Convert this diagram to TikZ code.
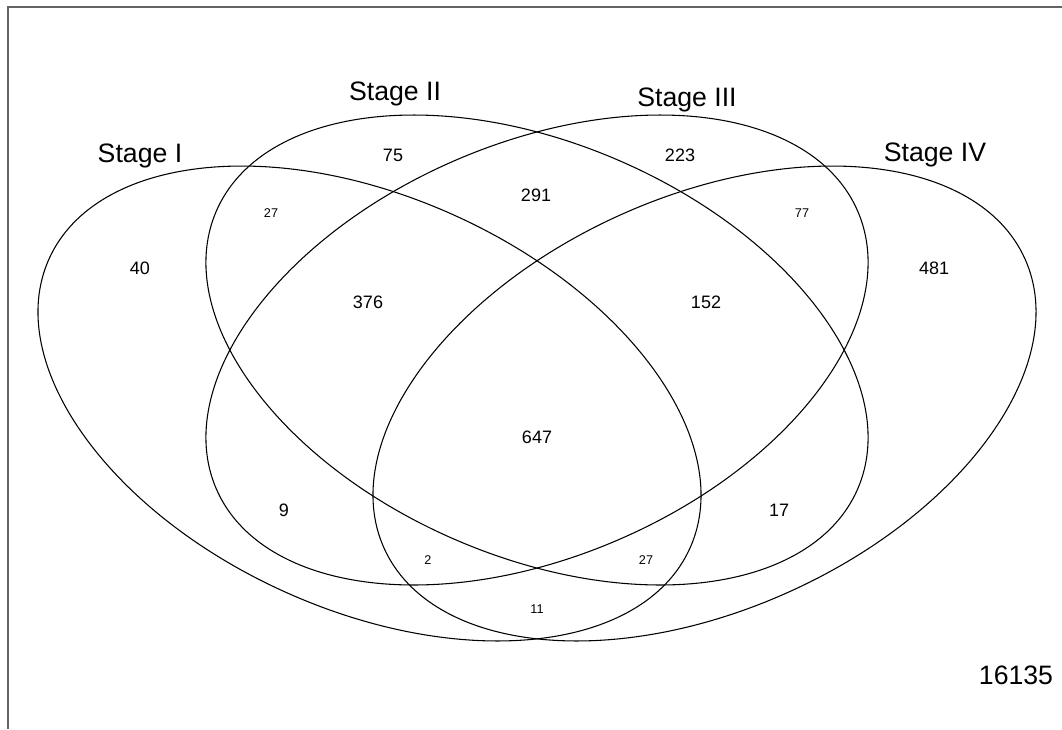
\documentclass[tikz,border=0pt]{standalone}
\usepackage{fontspec}
\setmainfont{Liberation Sans}

\tikzset{every picture/.style={line width=0.75pt}}
\tikzset{
  setname/.style={font=\fontsize{20}{24}\selectfont, inner sep=0.75pt},
  cnt/.style={font=\fontsize{13.5}{16}\selectfont, inner sep=0.75pt},
  cntsmall/.style={font=\fontsize{9.5}{11}\selectfont, inner sep=0.75pt},
  venn/.style={draw=black, line width=0.8pt}
}

\begin{document}
\begin{tikzpicture}[x=0.75pt,y=0.75pt,yscale=-1,xscale=1]
		\useasboundingbox (0,0) rectangle (1062,729);
		
		%Frame lines
		\draw [color={rgb, 255:red, 100; green, 100; blue, 100 }, line width=1.3pt] (7.8,729) -- (7.8,6.8) -- (1062,6.8) ;
		
		%Shape: Ellipse [Stage I]
		\draw [venn, rotate around={24.33:(369.5,403.5)}] (369.5,403.5) ellipse (351.6 and 206.5) ;
		%Shape: Ellipse [Stage II]
		\draw [venn, rotate around={23.43:(537,350)}] (537,350) ellipse (349.5 and 206.5) ;
		%Shape: Ellipse [Stage III]
		\draw [venn, rotate around={-23.43:(537,350)}] (537,350) ellipse (349.5 and 206.5) ;
		%Shape: Ellipse [Stage IV]
		\draw [venn, rotate around={-24.33:(704.5,403.5)}] (704.5,403.5) ellipse (351.6 and 206.5) ;
		
		% Text Node
		\draw (140,156) node [setname] (stI) {Stage I};
		% Text Node
		\draw (395,94) node [setname] (stII) {Stage II};
		% Text Node
		\draw (687,100) node [setname] (stIII) {Stage III};
		% Text Node
		\draw (935,155) node [setname] (stIV) {Stage IV};
		
		% Text Node
		\draw (140,268) node [cnt] (nA) {40};
		% Text Node
		\draw (393,155) node [cnt] (nB) {75};
		% Text Node
		\draw (680,155) node [cnt] (nC) {223};
		% Text Node
		\draw (934,268) node [cnt] (nD) {481};
		% Text Node
		\draw (271,213) node [cntsmall] (nAB) {27};
		% Text Node
		\draw (536,195) node [cnt] (nBC) {291};
		% Text Node
		\draw (802,213) node [cntsmall] (nCD) {77};
		% Text Node
		\draw (368,302) node [cnt] (nABC) {376};
		% Text Node
		\draw (706,302) node [cnt] (nBCD) {152};
		% Text Node
		\draw (537,437) node [cnt] (nABCD) {647};
		% Text Node
		\draw (284,510) node [cnt] (nAC) {9};
		% Text Node
		\draw (779,510) node [cnt] (nBD) {17};
		% Text Node
		\draw (428,560) node [cntsmall] (nACD) {2};
		% Text Node
		\draw (646,560) node [cntsmall] (nABD) {27};
		% Text Node
		\draw (537,609) node [cntsmall] (nAD) {11};
		% Text Node
		\draw (1016,675) node [setname] (nout) {16135};
		
	\end{tikzpicture}
\end{document}
